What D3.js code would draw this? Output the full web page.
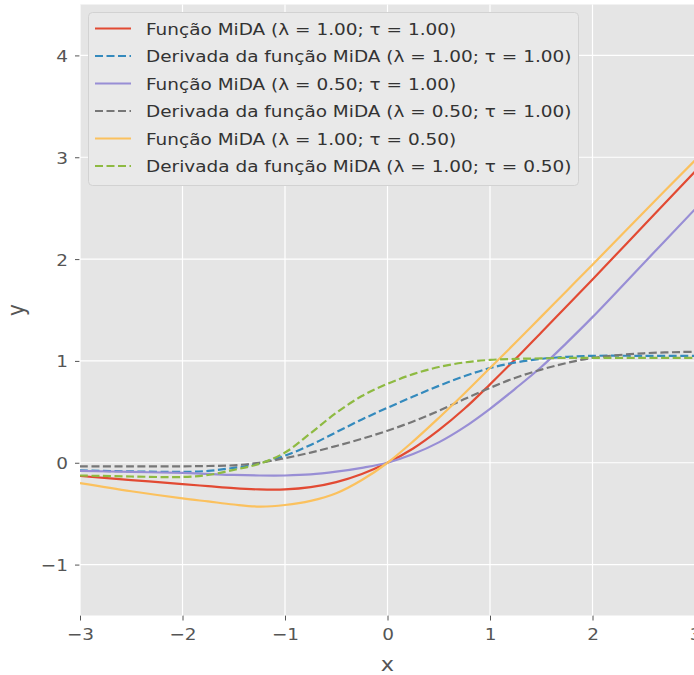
<!DOCTYPE html>
<html>
<head>
<meta charset="utf-8">
<script src="https://cdn.jsdelivr.net/npm/d3@7"></script>
<style>
  body { margin: 0; background: #fff; }
  text { font-family: "DejaVu Sans", sans-serif; }
</style>
</head>
<body>
<div id="container"></div>
<script>
// values
const xValues = [-3, -2.5, -2, -1.75, -1.5, -1.25, -1, -0.75, -0.5, -0.25, 0, 0.25, 0.5, 0.75, 1, 1.25, 1.5, 1.75, 2, 2.5, 3]
const midaA = [-0.13, -0.17, -0.21, -0.23, -0.25, -0.262, -0.262, -0.24, -0.19, -0.11, 0, 0.14, 0.32, 0.53, 0.77, 1.02, 1.28, 1.54, 1.80, 2.33, 2.86]
const derivA = [-0.075, -0.085, -0.09, -0.08, -0.05, -0.005, 0.07, 0.175, 0.30, 0.425, 0.54, 0.65, 0.755, 0.85, 0.93, 0.985, 1.02, 1.04, 1.05, 1.05, 1.05]
const midaB = [-0.08, -0.09, -0.10, -0.11, -0.12, -0.125, -0.125, -0.115, -0.088, -0.05, 0, 0.085, 0.2, 0.35, 0.53, 0.73, 0.94, 1.18, 1.43, 1.96, 2.49]
const derivB = [-0.035, -0.035, -0.035, -0.032, -0.025, 0.0, 0.045, 0.10, 0.165, 0.235, 0.315, 0.405, 0.51, 0.625, 0.735, 0.835, 0.915, 0.98, 1.03, 1.075, 1.09]
const midaC = [-0.2, -0.28, -0.35, -0.38, -0.41, -0.43, -0.415, -0.375, -0.3, -0.17, 0, 0.21, 0.44, 0.68, 0.93, 1.18, 1.435, 1.69, 1.945, 2.46, 2.97]
const derivC = [-0.125, -0.135, -0.14, -0.12, -0.07, -0.01, 0.10, 0.29, 0.49, 0.655, 0.775, 0.87, 0.94, 0.985, 1.01, 1.02, 1.025, 1.03, 1.03, 1.03, 1.03]

const seriesNames = [
    'Função MiDA (λ = 1.00; τ = 1.00)',
    'Derivada da função MiDA (λ = 1.00; τ = 1.00)',
    'Função MiDA (λ = 0.50; τ = 1.00)',
    'Derivada da função MiDA (λ = 0.50; τ = 1.00)',
    'Função MiDA (λ = 1.00; τ = 0.50)',
    'Derivada da função MiDA (λ = 1.00; τ = 0.50)',
]
const seriesValues = [midaA, derivA, midaB, derivB, midaC, derivC]
const xTicks = [-3, -2, -1, 0, 1, 2, 3]
const yTicks = [-1, 0, 1, 2, 3, 4]

const colors = ['#E24A33', '#348ABD', '#988ED5', '#777777', '#FBC15E', '#8EBA42']
const dashed = [false, true, false, true, false, true]

const config = {
    width: 694,
    height: 675,
    left: 80,
    top: 4.5,
    plotW: 615,
    plotH: 611,
    fontSize: 16.5,
    stretch: 1.12,   // the reference text is a bit wider than plain DejaVu
}

const svg = d3.select('#container')
    .append('svg')
    .attr('width', config.width)
    .attr('height', config.height)

const xScale = d3.scaleLinear()
    .domain([-3, 3])
    .range([config.left, config.left + config.plotW])

const yScale = d3.scaleLinear()
    .domain([-1.5, 4.5])
    .range([config.top + config.plotH, config.top])

svg.append('defs').append('clipPath')
    .attr('id', 'plot-clip')
    .append('rect')
    .attr('x', config.left)
    .attr('y', config.top)
    .attr('width', config.plotW)
    .attr('height', config.plotH)

svg.append('rect')
    .attr('x', config.left)
    .attr('y', config.top)
    .attr('width', config.plotW)
    .attr('height', config.plotH)
    .attr('fill', '#E5E5E5')

const fmt = d => d < 0 ? '\u2212' + Math.abs(d) : String(d)

const xAxis = svg.append('g')
    .attr('class', 'x-axis')
    .attr('transform', `translate(0,${config.top + config.plotH})`)
    .call(d3.axisBottom(xScale).tickValues(xTicks).tickFormat(fmt).tickSizeOuter(0).tickSize(5).tickPadding(5))
xAxis.select('.domain').remove()

const yAxis = svg.append('g')
    .attr('class', 'y-axis')
    .attr('transform', `translate(${config.left},0)`)
    .call(d3.axisLeft(yScale).tickValues(yTicks).tickFormat(fmt).tickSizeOuter(0).tickSize(5).tickPadding(6))
yAxis.select('.domain').remove()

svg.selectAll('.x-axis .tick line, .y-axis .tick line')
    .attr('stroke', '#555555')
    .attr('stroke-width', 1)

xAxis.selectAll('.tick text')
    .attr('y', null)
    .attr('dy', null)
    .attr('transform', `translate(0,24) scale(${config.stretch},1)`)
yAxis.selectAll('.tick text')
    .attr('x', null)
    .attr('dy', null)
    .attr('transform', `translate(-12,6) scale(${config.stretch},1)`)
svg.selectAll('.x-axis .tick text, .y-axis .tick text')
    .attr('fill', '#555555')
    .style('font-size', config.fontSize + 'px')
    .style('font-family', '"DejaVu Sans", sans-serif')

const grid = svg.append('g')
grid.selectAll('line.gx')
    .data(xTicks)
    .join('line')
    .attr('x1', d => xScale(d))
    .attr('x2', d => xScale(d))
    .attr('y1', config.top)
    .attr('y2', config.top + config.plotH)
    .attr('stroke', 'white')
    .attr('stroke-width', 1.2)
grid.selectAll('line.gy')
    .data(yTicks)
    .join('line')
    .attr('x1', config.left)
    .attr('x2', config.left + config.plotW)
    .attr('y1', d => yScale(d))
    .attr('y2', d => yScale(d))
    .attr('stroke', 'white')
    .attr('stroke-width', 1.2)

const line = d3.line()
    .x(d => xScale(d[0]))
    .y(d => yScale(d[1]))
    .curve(d3.curveCatmullRom.alpha(0.5))

svg.append('g')
    .attr('clip-path', 'url(#plot-clip)')
    .selectAll('path')
    .data(seriesValues)
    .join('path')
    .attr('d', vals => line(vals.map((v, i) => [xValues[i], v])))
    .attr('fill', 'none')
    .attr('stroke', (_, i) => colors[i])
    .attr('stroke-width', 2.2)
    .attr('stroke-dasharray', (_, i) => dashed[i] ? '8,3.5' : null)

svg.append('text')
    .attr('text-anchor', 'middle')
    .attr('transform', `translate(${xScale(0)},671) scale(${config.stretch},1)`)
    .text('x')
    .style('font-size', '20px')
    .style('fill', '#555555')

svg.append('text')
    .attr('text-anchor', 'middle')
    .attr('transform', `translate(24,${yScale(1.5)}) rotate(-90) scale(1,${config.stretch})`)
    .text('y')
    .style('font-size', '20px')
    .style('fill', '#555555')

// legend
const legend = svg.append('g')
legend.append('rect')
    .attr('x', 88.5)
    .attr('y', 12.5)
    .attr('width', 490)
    .attr('height', 173)
    .attr('rx', 4)
    .attr('fill', '#E9E9E9')
    .attr('stroke', '#D2D2D2')
    .attr('stroke-width', 1)

const rowY = i => 28.5 + 27.5 * i

legend.selectAll('line.item')
    .data(seriesNames)
    .join('line')
    .attr('x1', 95)
    .attr('x2', 131)
    .attr('y1', (_, i) => rowY(i))
    .attr('y2', (_, i) => rowY(i))
    .attr('stroke', (_, i) => colors[i])
    .attr('stroke-width', 2.2)
    .attr('stroke-dasharray', (_, i) => dashed[i] ? '8,3.5' : null)

legend.selectAll('text')
    .data(seriesNames)
    .join('text')
    .text(d => d)
    .attr('transform', (_, i) => `translate(146,${rowY(i) + 6}) scale(${config.stretch},1)`)
    .style('font-size', config.fontSize + 'px')
    .style('fill', '#333333')
</script>
</body>
</html>
